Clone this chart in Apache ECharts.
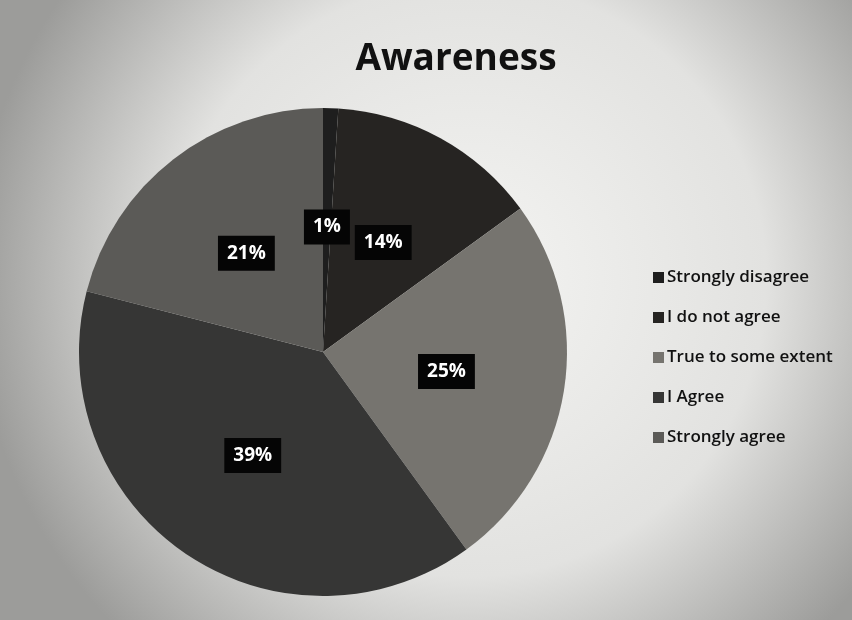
<!DOCTYPE html>
<html>
<head>
<meta charset="utf-8">
<script src="https://cdn.jsdelivr.net/npm/echarts@6/dist/echarts.min.js"></script>
<style>html,body{margin:0;padding:0;}#c{width:852px;height:620px;}</style>
</head>
<body>
<div id="c"></div>
<script>
const categories = ['Strongly disagree', 'I do not agree', 'True to some extent', 'I Agree', 'Strongly agree'];
const values = [1, 14, 25, 39, 21];
const colors = ['#1e1e1e', '#262422', '#76746f', '#363635', '#5b5a57'];

const chart = echarts.init(document.getElementById('c'));
chart.setOption({
  backgroundColor: {
    type: 'radial', x: 0.55, y: 0.45, r: 0.8,
    colorStops: [
      { offset: 0, color: '#f4f4f2' },
      { offset: 0.6, color: '#e2e2e0' },
      { offset: 1, color: '#9c9c9a' }
    ]
  },
  title: {
    text: 'Awareness', left: 451, top: 36, textAlign: 'center',
    textStyle: { fontFamily: 'Open Sans', fontWeight: 'bold', fontSize: 37, color: '#111' }
  },
  legend: {
    orient: 'vertical', left: 648, top: 261, itemGap: 17,
    itemWidth: 11, itemHeight: 11, icon: 'rect',
    textStyle: { fontFamily: 'Open Sans', fontWeight: 600, fontSize: 17, lineHeight: 23, color: '#111', padding: [0, 0, 0, -2] },
    data: categories
  },
  series: [{
    type: 'pie', center: [323, 352], radius: 244, startAngle: 90, clockwise: true,
    avoidLabelOverlap: false,
    color: colors,
    itemStyle: { borderWidth: 0 },
    label: {
      position: 'inside', formatter: '{d}%',
      backgroundColor: '#050505', padding: [9, 9, 7, 9],
      color: '#fff', fontFamily: 'Open Sans', fontWeight: 'bold', fontSize: 19
    },
    labelLine: { show: false },
    emphasis: { disabled: true },
    data: categories.map((n, i) => ({ name: n, value: values[i] }))
  }]
});
</script>
</body>
</html>
